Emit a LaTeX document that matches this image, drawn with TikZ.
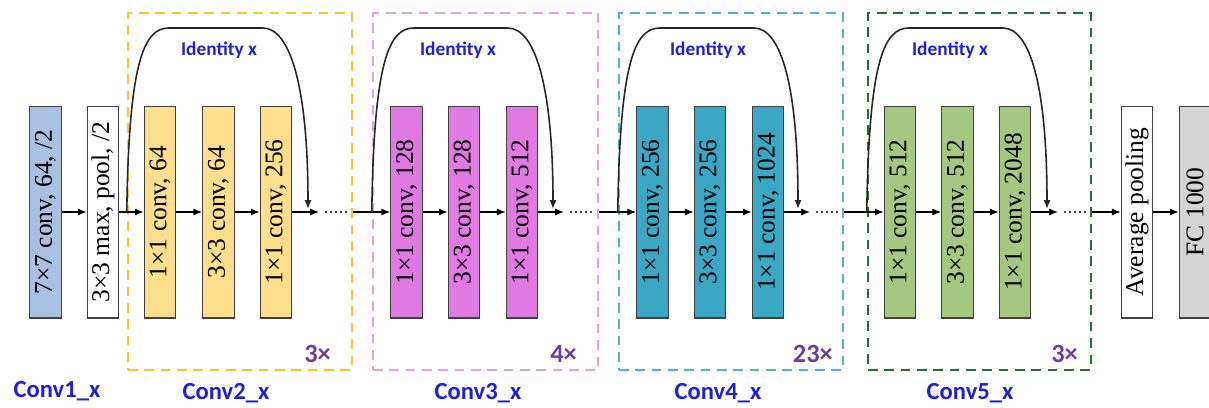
\documentclass[tikz,border=0pt]{standalone}
\usepackage{fontspec}
\setmainfont{Liberation Serif}
\newfontfamily\labelfont{Carlito}
\usepackage{xcolor}
\usetikzlibrary{arrows.meta, positioning}
\definecolor{convone}{RGB}{170, 192, 226}
\definecolor{convtwo}{RGB}{252, 222, 140}
\definecolor{convthree}{RGB}{224, 122, 226}
\definecolor{convfour}{RGB}{58, 168, 196}
\definecolor{convfive}{RGB}{164, 200, 130}
\definecolor{fcgray}{RGB}{212, 212, 212}
\definecolor{frametwo}{RGB}{245, 200, 40}
\definecolor{framethree}{RGB}{226, 160, 228}
\definecolor{framefour}{RGB}{80, 180, 200}
\definecolor{framefive}{RGB}{40, 110, 50}
\definecolor{labelblue}{RGB}{30, 30, 220}
\definecolor{repviolet}{RGB}{110, 60, 160}
\tikzstyle{layer} = [rectangle, rotate=90, draw=black!75, line width=0.6pt, minimum width=4.24cm, minimum height=0.63cm, inner sep=0pt, font=\fontsize{14.5}{16}\selectfont]
\tikzstyle{frame} = [rectangle, dash pattern=on 5.5pt off 3.8pt, line width=1.4pt, minimum height=7.14cm]
\tikzstyle{arrow} = [line width=0.7pt,->,>={Latex[length=5pt,width=4pt]}]
\tikzstyle{skip} = [line width=0.9pt, black!85,->,>={Latex[length=5pt,width=4pt]}]
\tikzstyle{dots} = [line width=0.9pt, dotted, black!70]
\tikzstyle{stagelabel} = [font=\labelfont\bfseries\fontsize{14}{16}\selectfont, text=labelblue]
\tikzstyle{idlabel} = [font=\labelfont\bfseries\fontsize{11}{13}\selectfont, text=labelblue]
\tikzstyle{replabel} = [font=\labelfont\bfseries\fontsize{15}{18}\selectfont, text=repviolet, anchor=east]

\begin{document}
\begin{tikzpicture}[x=0.02cm, y=-0.02cm]
    \useasboundingbox (0,0) rectangle (1209,407);

    % Stage frames
    \node[frame, draw=frametwo, minimum width=4.48cm] (g2) at (240,191.5) {};
    \node[frame, draw=framethree, minimum width=4.5cm] (g3) at (485.5,191.5) {};
    \node[frame, draw=framefour, minimum width=4.48cm] (g4) at (731,191.5) {};
    \node[frame, draw=framefive, minimum width=4.46cm] (g5) at (979.5,191.5) {};

    % Conv1 and pooling
    \node[layer, fill=convone] (c1) at (45.5,212) {7×7 conv, 64, /2};
    \node[layer, fill=white] (pool) at (103,212) {3×3 max, pool, /2};

    % Conv2
    \node[layer, fill=convtwo] (c2a) at (160,212) {1×1 conv, 64};
    \node[layer, fill=convtwo] (c2b) at (218.5,212) {3×3 conv, 64};
    \node[layer, fill=convtwo] (c2c) at (276,212) {1×1 conv, 256};

    % Conv3
    \node[layer, fill=convthree] (c3a) at (406.5,212) {1×1 conv, 128};
    \node[layer, fill=convthree] (c3b) at (464,212) {3×3 conv, 128};
    \node[layer, fill=convthree] (c3c) at (522,212) {1×1 conv, 512};

    % Conv4
    \node[layer, fill=convfour] (c4a) at (652.5,212) {1×1 conv, 256};
    \node[layer, fill=convfour] (c4b) at (710,212) {3×3 conv, 256};
    \node[layer, fill=convfour] (c4c) at (768,212) {1×1 conv, 1024};

    % Conv5
    \node[layer, fill=convfive] (c5a) at (900,212) {1×1 conv, 512};
    \node[layer, fill=convfive] (c5b) at (957.5,212) {3×3 conv, 512};
    \node[layer, fill=convfive] (c5c) at (1015,212) {1×1 conv, 2048};

    % Head
    \node[layer, fill=white] (avg) at (1137,212) {Average pooling};
    \node[layer, fill=fcgray] (fc) at (1195,212) {FC 1000};

    % Labels
    \node[stagelabel] (l1) at (57,391) {Conv1\_x};
    \node[stagelabel] (l2) at (226,393) {Conv2\_x};
    \node[stagelabel] (l3) at (478,393) {Conv3\_x};
    \node[stagelabel] (l4) at (718,393) {Conv4\_x};
    \node[stagelabel] (l5) at (970,393) {Conv5\_x};
    \node[idlabel] (i2) at (219,50) {Identity x};
    \node[idlabel] (i3) at (458,50) {Identity x};
    \node[idlabel] (i4) at (708,50) {Identity x};
    \node[idlabel] (i5) at (950,50) {Identity x};
    \node[replabel] (r2) at (337,354) {3×};
    \node[replabel] (r3) at (583,354) {4×};
    \node[replabel] (r4) at (839,354) {23×};
    \node[replabel] (r5) at (1084,354) {3×};

    % Stage outputs
    \coordinate (o2) at (319,212);  \coordinate (d2a) at (325,212); \coordinate (d2b) at (348,212);
    \coordinate (o3) at (564,212);  \coordinate (d3a) at (570,212); \coordinate (d3b) at (595,212);
    \coordinate (o4) at (810,212);  \coordinate (d4a) at (816,212); \coordinate (d4b) at (840,212);
    \coordinate (o5) at (1058,212); \coordinate (d5a) at (1064,212); \coordinate (d5b) at (1088,212);
    \coordinate (s2) at (308,209);
    \coordinate (s3) at (553,209);
    \coordinate (s4) at (798,209);
    \coordinate (s5) at (1047,209);

    % Main path
    \draw[arrow] (c1) -- (pool);
    \draw[arrow] (pool) -- (c2a);
    \draw[arrow] (c2a) -- (c2b);
    \draw[arrow] (c2b) -- (c2c);
    \draw[arrow] (c2c) -- (o2);
    \draw[dots] (d2a) -- (d2b);
    \draw[arrow] (g2.east |- c2c) -- (c3a);
    \draw[arrow] (c3a) -- (c3b);
    \draw[arrow] (c3b) -- (c3c);
    \draw[arrow] (c3c) -- (o3);
    \draw[dots] (d3a) -- (d3b);
    \draw[arrow] (g3.east |- c3c) -- (c4a);
    \draw[arrow] (c4a) -- (c4b);
    \draw[arrow] (c4b) -- (c4c);
    \draw[arrow] (c4c) -- (o4);
    \draw[dots] (d4a) -- (d4b);
    \draw[arrow] (g4.east |- c4c) -- (c5a);
    \draw[arrow] (c5a) -- (c5b);
    \draw[arrow] (c5b) -- (c5c);
    \draw[arrow] (c5c) -- (o5);
    \draw[dots] (d5a) -- (d5b);
    \draw[arrow] (g5.east |- c5c) -- (avg);
    \draw[arrow] (avg) -- (fc);

    % Identity shortcuts
    \draw[skip] (g2.west |- c2a) .. controls +(2,-150) and +(-25,0) .. ++(42,-184) -- ++(94,0) .. controls +(28,0) and +(0,-120) .. (s2);
    \draw[skip] (g3.west |- c3a) .. controls +(2,-150) and +(-25,0) .. ++(42,-184) -- ++(94,0) .. controls +(28,0) and +(0,-120) .. (s3);
    \draw[skip] (g4.west |- c4a) .. controls +(2,-150) and +(-25,0) .. ++(42,-184) -- ++(94,0) .. controls +(28,0) and +(0,-120) .. (s4);
    \draw[skip] (g5.west |- c5a) .. controls +(2,-150) and +(-25,0) .. ++(42,-184) -- ++(94,0) .. controls +(28,0) and +(0,-120) .. (s5);

\end{tikzpicture}
\end{document}
